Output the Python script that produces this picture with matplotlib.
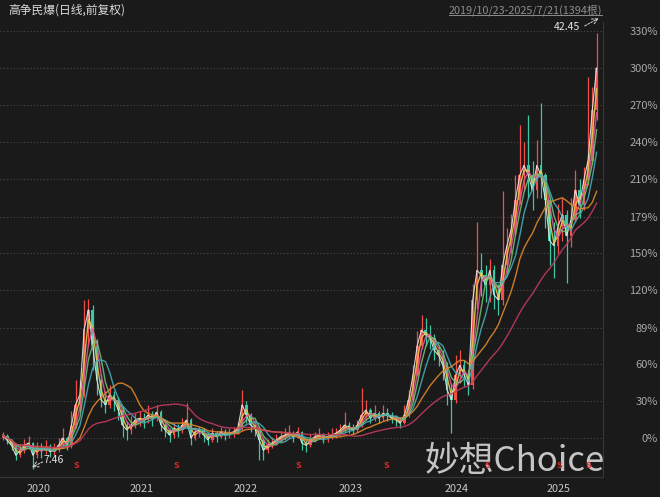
import numpy as np
import pandas as pd
import matplotlib
matplotlib.use("Agg")
import matplotlib.pyplot as plt
from matplotlib.transforms import offset_copy, blended_transform_factory
from matplotlib.lines import Line2D

plt.rcParams['font.family'] = ['Noto Sans CJK SC', 'DejaVu Sans']

# ---------------- data (percent change vs. first close, ~10 trading days per bar) -------------
title_text = "高争民爆(日线,前复权)"
range_text = "2019/10/23-2025/7/21(1394根)"
low_label = "7.46"
high_label = "42.45"

opens = [0, 2, -2, -6, -14, -10, -6, -4, -14, -8,
         -10, -8, -11, -10, -6, 0, -6, 10, 27, 35,
         88, 104, 75, 47, 31, 27, 35, 31, 23, 10.5,
         6.5, 10.5, 14.6, 16, 14.6, 18.7, 16, 21, 10.5, 6.5,
         2.4, 8, 6.5, 10.5, 14.6, 0, 5, 6.5, 2.4, -1.6,
         4, 1, 5, 2.4, 4, 5, 8, 27, 18.7, 10.5,
         8, -1.6, -10, -6, -4, -1.6, 1, 2.4, 4, 1,
         5, -4, -6, -1.6, 1, 2.4, 0, 1, 2.4, 4,
         6.5, 10.5, 8, 6.5, 10.5, 18.7, 22.7, 16, 20, 16,
         20, 18.7, 16, 14.6, 12, 18.7, 31, 51, 75, 87.6,
         83.5, 81, 71, 67, 59, 39, 31, 51, 59, 51,
         43, 112, 136, 132, 124, 136, 116, 112, 140, 156,
         169, 193, 213, 221, 213, 201, 221, 213, 193, 160,
         156, 172, 181, 164, 177, 201, 189, 209, 225, 266]

closes = [2, -2, -6, -14, -10, -6, -4, -14, -8, -10,
          -8, -11, -10, -6, 0, -6, 10, 27, 35, 88,
          104, 75, 47, 31, 27, 35, 31, 23, 10.5, 6.5,
          10.5, 14.6, 16, 14.6, 18.7, 16, 21, 10.5, 6.5, 2.4,
          8, 6.5, 10.5, 14.6, 0, 5, 6.5, 2.4, -1.6, 4,
          1, 5, 2.4, 4, 5, 8, 27, 18.7, 10.5, 8,
          -1.6, -10, -6, -4, -1.6, 1, 2.4, 4, 1, 5,
          -4, -6, -1.6, 1, 2.4, 0, 1, 2.4, 4, 6.5,
          10.5, 8, 6.5, 10.5, 18.7, 22.7, 16, 20, 16, 20,
          18.7, 16, 14.6, 12, 18.7, 31, 51, 75, 87.6, 83.5,
          81, 71, 67, 59, 39, 31, 51, 59, 51, 43,
          112, 136, 132, 124, 136, 116, 112, 140, 156, 169,
          193, 213, 221, 213, 201, 221, 213, 193, 160, 156,
          172, 181, 164, 177, 201, 189, 209, 225, 266, 300]

highs = [5, 3, -1, -5, -5, -1, 2, -3, -3, -4,
         -2, -5, -4, 0, 8, 1, 22, 47, 47, 112,
         113, 108, 80, 52, 38, 43, 38, 33, 25, 14,
         18, 20, 22, 20, 27, 22, 27, 23, 12, 8,
         12, 11, 16, 28, 16, 9, 10, 8, 4, 8,
         6, 9, 7, 8, 9, 13, 39, 30, 20, 14,
         10, 0, -1, 1, 3, 6, 8, 10.5, 6, 9,
         6, -1, 3, 5, 8, 4, 5, 8, 8, 11,
         21, 13, 11, 15, 40.5, 31, 24, 27, 22, 27,
         24, 21, 19, 17, 27, 39, 59, 87, 100, 97,
         92, 84, 75, 71, 62, 45, 67, 71, 63, 55,
         125, 175, 150, 140, 145, 140, 125, 200, 170, 182,
         213, 254, 240, 262, 225, 242, 272, 215, 195, 175,
         190, 195, 185, 195, 217, 210, 220, 293, 285, 328.5]

lows = [-2, -5, -10, -18, -15, -12, -9, -24.8, -16, -16,
        -13, -15, -14, -11, -8, -10, -8, 8, 22, 33,
        75, 55, 35, 25, 20, 24, 22, 15, 1, -2,
        3, 8, 10, 8, 12, 10, 14, 6, 1, -3,
        0, 1, 4, 8, -6, -2, 1, -3, -6, -3,
        -3, 0, -2, 0, 1, 3, 6, 12, 5, 2,
        -18, -18, -12, -8, -6, -4, -2, 0, -3, 0,
        -10, -11, -7, -3, -1, -4, -3, -1, 0, 2,
        5, 4, 3, 5, 9, 15, 12, 14, 12, 14,
        14, 12, 10, 8, 11, 17, 30, 50, 72, 75,
        72, 63, 58, 47, 27, 4, 28, 45, 42, 35,
        40, 105, 115, 110, 110, 105, 100, 108, 135, 150,
        165, 190, 200, 195, 185, 195, 195, 170, 140, 130,
        150, 160, 126, 155, 175, 178, 185, 205, 222, 258]

# moving averages (window in bars) and colours
ma_windows = [1, 2, 3, 4, 6, 12, 25]
ma_colors = ['#e8e8e8', '#e9c84a', '#e0559a', '#6cc070', '#48a9b8', '#e0882a', '#c23a5e']

ytick_vals = [330, 300, 270, 240, 210, 179, 150, 120, 89, 60, 30, 0]
year_labels = ['2020', '2021', '2022', '2023', '2024', '2025']
year_pos = [5.6, 29.7, 54.1, 78.5, 103.5, 127.2]
dividend_pos = [17.3, 40.7, 69.1, 89.9, 113.4, 130.4, 137.0]

# ---------------- figure -------------
BG = '#1a1a1a'
fig = plt.figure(figsize=(6.6, 4.97), dpi=100, facecolor=BG)
ax = fig.add_axes([0, 20 / 497, 603 / 660, 455 / 497])
ax.patch.set_visible(False)

o = np.array(opens, float)
c = np.array(closes, float)
h = np.array(highs, float)
l = np.array(lows, float)
x = np.arange(len(c))

up = c >= o
col = np.where(up, '#f0504a', '#3fc7a5')

ax.vlines(x, l, h, colors=col, lw=0.9, zorder=2)
body = np.where(np.abs(c - o) < 0.6, 0.6, c - o)
ax.bar(x, body, bottom=o, width=0.6, color=col, linewidth=0, zorder=2)

s = pd.Series(c)
for w, mc in zip(ma_windows, ma_colors):
    ma = s.rolling(w, min_periods=1).mean()
    ax.plot(x, ma, color=mc, lw=1.0 if w > 1 else 0.8, alpha=0.9, zorder=3)

ax.set_xlim(-0.7, 140.5)
ax.set_ylim(-31.6, 337.3)

# grid / spines
ax.grid(axis='y', color='#4a4a4a', linestyle=(0, (1, 2)), lw=0.8)
ax.set_axisbelow(True)
for sp in ['left', 'top']:
    ax.spines[sp].set_visible(False)
for sp in ['right', 'bottom']:
    ax.spines[sp].set_color('#363636')
    ax.spines[sp].set_linewidth(0.8)

ax.yaxis.tick_right()
ax.set_yticks(ytick_vals)
ax.set_yticklabels([f'{v}%' for v in ytick_vals])
ax.tick_params(axis='y', length=0, pad=39.6, labelcolor='#a8a8a8', labelsize=8)
for lbl in ax.get_yticklabels():
    lbl.set_ha('right')

ax.set_xticks(year_pos)
ax.set_xticklabels(year_labels)
ax.tick_params(axis='x', length=0, pad=5, labelcolor='#c8c8c8', labelsize=7.8)
for lbl in ax.get_xticklabels():
    lbl.set_ha('left')

# dividend markers
btr = blended_transform_factory(ax.transData, ax.transAxes)
for p in dividend_pos:
    ax.text(p, 0.026, 'S', transform=btr, color='#e02b2b', fontsize=6.5,
            fontweight='bold', ha='center', va='center', zorder=4)

# annotations for min / max
i_min = int(np.argmin(l))
i_max = int(np.argmax(h))
arrow = dict(arrowstyle='->', color='#dddddd', lw=0.7, linestyle=(0, (2, 1.5)),
             shrinkA=0, shrinkB=0)

ax.annotate(high_label, xy=(i_max, h[i_max]), xytext=(-21, 4), textcoords='offset points',
            ha='center', va='center', color='#e6e6e6', fontsize=7.5, zorder=6)
ax.annotate('', xy=(i_max, h[i_max]),
            xycoords=offset_copy(ax.transData, fig=fig, x=1.5, y=10.5, units='points'),
            xytext=(i_max, h[i_max]),
            textcoords=offset_copy(ax.transData, fig=fig, x=-8.5, y=5, units='points'),
            arrowprops=arrow, zorder=6)

ax.annotate(low_label, xy=(i_min, l[i_min]), xytext=(15, 6), textcoords='offset points',
            ha='center', va='center', color='#e6e6e6', fontsize=7.5, zorder=6)
ax.annotate('', xy=(i_min, l[i_min]),
            xycoords=offset_copy(ax.transData, fig=fig, x=-0.7, y=1, units='points'),
            xytext=(i_min, l[i_min]),
            textcoords=offset_copy(ax.transData, fig=fig, x=7, y=4.8, units='points'),
            arrowprops=arrow, zorder=6)

# header texts
fig.text(8 / 660, 1 - 10 / 497, title_text, ha='left', va='center',
         color='#d8d8d8', fontsize=8.5)
t = fig.text(602 / 660, 1 - 10 / 497, range_text, ha='right', va='center',
             color='#8c8c8c', fontsize=7.8)
fig.canvas.draw()
bb = t.get_window_extent()
inv = fig.transFigure.inverted()
(x0, y0), (x1, _) = inv.transform([(bb.x0, bb.y0 + 0.5), (bb.x1, bb.y0 + 0.5)])
fig.add_artist(Line2D([x0, x1], [y0, y0], transform=fig.transFigure,
                      color='#8c8c8c', lw=0.7))

# watermark (behind the transparent axes so the red S markers stay on top)
fig.text(515 / 660, 1 - 461 / 497, '妙想Choice', ha='center', va='center',
         color='#d4d4d4', alpha=0.92, fontsize=25, zorder=-1)

fig.savefig('out.png', dpi=100, facecolor=BG)
